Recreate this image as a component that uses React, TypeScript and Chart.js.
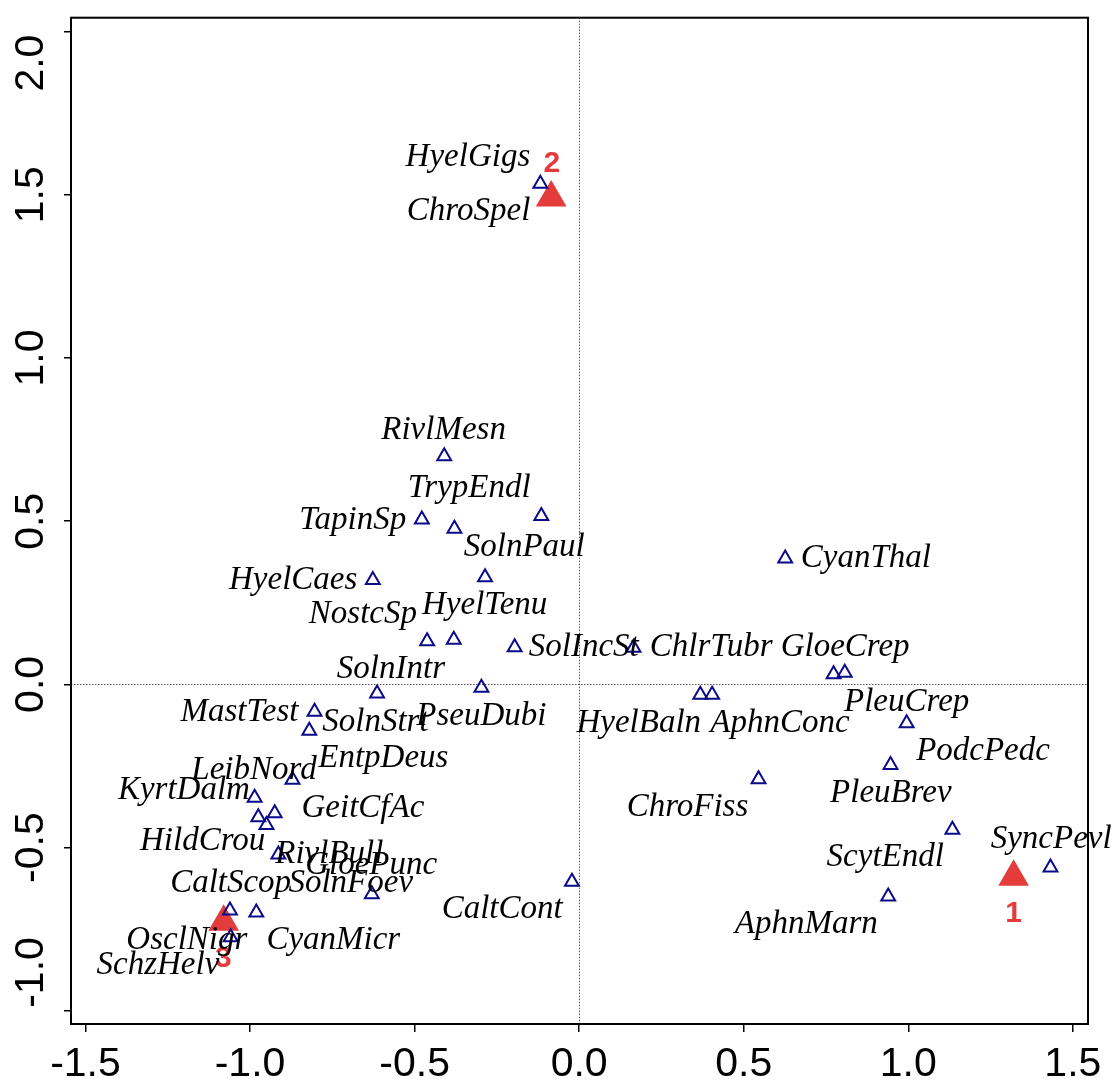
import React, { useEffect, useRef } from 'react';
import { Chart, registerables } from 'chart.js';

Chart.register(...registerables);

// Species points (open triangles)
const pointX = [
  -0.118,
  -0.410, -0.478, -0.379, -0.115, -0.286, -0.627, -0.462, -0.381, -0.196, -0.614, -0.297,
  -0.804, -0.820, -0.871, -0.986, -0.975, -0.925, -0.950, -0.914, -0.630, -1.061, -0.981, -1.059,
  0.165, 0.626, 0.773, 0.807, 0.368, 0.404, 0.995, 0.946, 0.545, 1.134, 1.432, 0.939, -0.022,
];
const pointY = [
  1.534,
  0.699, 0.505, 0.477, 0.516, 0.328, 0.320, 0.132, 0.137, 0.114, -0.028, -0.010,
  -0.084, -0.142, -0.292, -0.347, -0.407, -0.395, -0.431, -0.521, -0.643, -0.693, -0.699, -0.775,
  0.112, 0.386, 0.031, 0.036, -0.032, -0.032, -0.119, -0.247, -0.291, -0.445, -0.561, -0.650, -0.605,
];

// Species labels (text anchor: centre x, baseline y, in data units)
const speciesNames = [
  'HyelGigs', 'ChroSpel', 'RivlMesn', 'TrypEndl', 'TapinSp', 'SolnPaul', 'HyelCaes', 'NostcSp',
  'HyelTenu', 'SolIncSt', 'SolnIntr', 'MastTest', 'SolnStrt', 'PseuDubi', 'EntpDeus', 'LeibNord',
  'KyrtDalm', 'GeitCfAc', 'HildCrou', 'RivlBull', 'GloePunc', 'CaltScop', 'SolnFoev', 'CaltCont',
  'OsclNigr', 'CyanMicr', 'SchzHelv', 'CyanThal', 'ChlrTubr', 'GloeCrep', 'PleuCrep', 'HyelBaln',
  'AphnConc', 'PodcPedc', 'PleuBrev', 'ChroFiss', 'SyncPevl', 'ScytEndl', 'AphnMarn',
];
const speciesLabelX = [
  -0.338, -0.336, -0.412, -0.334, -0.688, -0.167, -0.869, -0.657,
  -0.287, 0.014, -0.572, -1.032, -0.619, -0.297, -0.595, -0.988,
  -1.201, -0.657, -1.144, -0.759, -0.632, -1.059, -0.694, -0.234,
  -1.192, -0.747, -1.280, 0.871, 0.401, 0.808, 0.995, 0.181,
  0.610, 1.227, 0.947, 0.329, 1.434, 0.930, 0.690,
];
const speciesLabelY = [
  1.589, 1.424, 0.753, 0.573, 0.475, 0.393, 0.291, 0.188,
  0.216, 0.087, 0.021, -0.111, -0.144, -0.124, -0.253, -0.290,
  -0.351, -0.405, -0.508, -0.547, -0.582, -0.635, -0.635, -0.716,
  -0.810, -0.810, -0.888, 0.360, 0.087, 0.088, -0.081, -0.147,
  -0.147, -0.233, -0.359, -0.402, -0.501, -0.557, -0.762,
];

// Group centroids (filled red triangles)
const groupNames = ['1', '2', '3'];
const groupX = [1.320, -0.085, -1.080];
const groupY = [-0.590, 1.491, -0.728];
const groupLabelX = [1.320, -0.083, -1.081];
const groupLabelY = [-0.729, 1.571, -0.867];

// Axes
const xTicks = [-1.5, -1.0, -0.5, 0.0, 0.5, 1.0, 1.5];
const yTicks = [-1.0, -0.5, 0.0, 0.5, 1.0, 1.5, 2.0];
const xRange = [-1.544, 1.546];
const yRange = [-1.0405, 2.0426];

const RED = 'rgb(228,59,59)';
const NAVY = '#0a0a8a';

const overlayPlugin = {
  id: 'overlay',
  beforeDatasetsDraw(chart: any) {
    const { ctx, chartArea: a, scales } = chart;
    const x0 = Math.round(scales.x.getPixelForValue(0)) + 0.5;
    const y0 = Math.round(scales.y.getPixelForValue(0)) + 0.5;
    ctx.save();
    ctx.strokeStyle = '#555';
    ctx.lineWidth = 1;
    ctx.setLineDash([1.5, 1.5]);
    ctx.beginPath();
    ctx.moveTo(x0, a.top);
    ctx.lineTo(x0, a.bottom);
    ctx.moveTo(a.left, y0);
    ctx.lineTo(a.right, y0);
    ctx.stroke();
    ctx.restore();
  },
  afterDatasetsDraw(chart: any) {
    const { ctx, scales } = chart;
    ctx.save();
    ctx.textAlign = 'center';
    ctx.textBaseline = 'alphabetic';
    ctx.fillStyle = RED;
    ctx.font = 'bold 30px "Liberation Sans", Arial, sans-serif';
    groupNames.forEach((n, i) => {
      ctx.fillText(n, scales.x.getPixelForValue(groupLabelX[i]), scales.y.getPixelForValue(groupLabelY[i]));
    });
    ctx.fillStyle = '#000';
    ctx.font = 'italic 33px "Liberation Serif", "Times New Roman", serif';
    speciesNames.forEach((n, i) => {
      ctx.fillText(n, scales.x.getPixelForValue(speciesLabelX[i]), scales.y.getPixelForValue(speciesLabelY[i]));
    });
    ctx.restore();
  },
  afterDraw(chart: any) {
    const { ctx, chartArea: a, scales } = chart;
    ctx.save();
    ctx.strokeStyle = '#000';
    ctx.lineWidth = 2;
    ctx.setLineDash([]);
    ctx.strokeRect(a.left, a.top, a.right - a.left, a.bottom - a.top);
    // rotated y tick labels
    ctx.fillStyle = '#000';
    ctx.font = '41px "Liberation Sans", Arial, sans-serif';
    ctx.textBaseline = 'alphabetic';
    yTicks.forEach((v, i) => {
      const py = scales.y.getPixelForValue(v);
      let align: CanvasTextAlign = 'center';
      let yy = py;
      if (i === 0) { align = 'left'; yy = py - 3; }
      if (i === yTicks.length - 1) { align = 'right'; yy = py + 3; }
      ctx.save();
      ctx.translate(43, yy);
      ctx.rotate(-Math.PI / 2);
      ctx.textAlign = align;
      ctx.fillText(v.toFixed(1), 0, 0);
      ctx.restore();
    });
    ctx.restore();
  },
};

export default function App() {
  const ref = useRef<HTMLCanvasElement>(null);
  useEffect(() => {
    if (!ref.current) return;
    const chart = new Chart(ref.current, {
      type: 'scatter',
      data: {
        datasets: [
          {
            label: 'species',
            data: pointX.map((v, i) => ({ x: v, y: pointY[i] })),
            pointStyle: 'triangle',
            pointRadius: 8,
            pointHoverRadius: 8,
            borderColor: NAVY,
            backgroundColor: 'rgba(0,0,0,0)',
            borderWidth: 2,
            order: 0,
          },
          {
            label: 'groups',
            data: groupX.map((v, i) => ({ x: v, y: groupY[i] })),
            pointStyle: 'triangle',
            pointRadius: 17.7,
            pointHoverRadius: 17.7,
            backgroundColor: RED,
            borderColor: RED,
            borderWidth: 0,
            order: 1,
          },
        ],
      },
      options: {
        responsive: false,
        devicePixelRatio: 1,
        animation: false,
        layout: { padding: { left: 0, right: 31, top: 10, bottom: 0 } },
        plugins: { legend: { display: false }, tooltip: { enabled: false } },
        scales: {
          x: {
            type: 'linear',
            min: xRange[0],
            max: xRange[1],
            afterBuildTicks: (s: any) => { s.ticks = xTicks.map((v) => ({ value: v })); },
            afterFit: (s: any) => { s.height = 64; },
            ticks: {
              autoSkip: false,
              maxRotation: 0,
              minRotation: 0,
              padding: 8,
              color: '#000',
              font: { family: '"Liberation Sans", Arial, sans-serif', size: 41 },
              callback: (v: any) => Number(v).toFixed(1),
            },
            grid: { drawOnChartArea: false, drawTicks: true, tickLength: 8, color: '#000', lineWidth: 1.5 },
            border: { display: false },
          },
          y: {
            type: 'linear',
            min: yRange[0],
            max: yRange[1],
            afterBuildTicks: (s: any) => { s.ticks = yTicks.map((v) => ({ value: v })); },
            afterFit: (s: any) => { s.width = 71; },
            ticks: { display: false },
            grid: { drawOnChartArea: false, drawTicks: true, tickLength: 7, color: '#000', lineWidth: 1.5 },
            border: { display: false },
          },
        },
      },
      plugins: [overlayPlugin],
    });
    return () => chart.destroy();
  }, []);
  return (
    <div style={{ position: 'fixed', left: 0, top: 0, width: 1119, height: 1088, background: '#fff' }}>
      <canvas ref={ref} width={1119} height={1088} />
    </div>
  );
}
